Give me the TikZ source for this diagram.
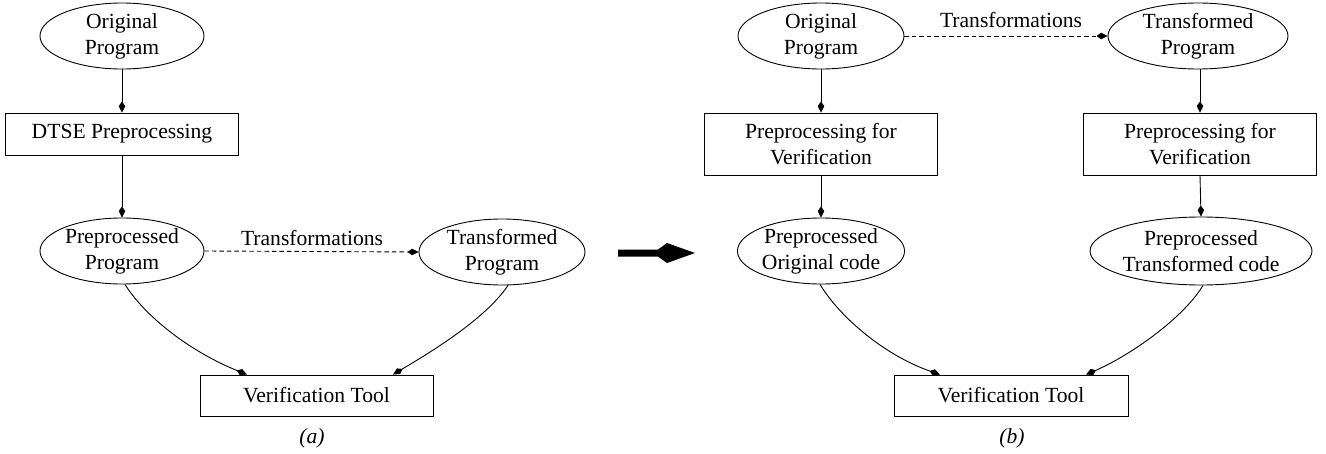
\documentclass[tikz,border=0pt]{standalone}
\usepackage{fontspec}
\setmainfont{Liberation Serif}
\newfontfamily\tnr{Liberation Serif}
\usetikzlibrary{shapes.geometric,arrows.meta}
\tikzset{
  txt/.style={font=\tnr\fontsize{21.6}{26}\selectfont, align=center, inner sep=0pt},
  ell/.style={txt, draw, ellipse, line width=0.9pt, minimum height=66pt},
  box/.style={txt, draw, rectangle, line width=0.9pt, minimum width=233pt},
  arr/.style={line width=0.9pt, -{Kite[length=11pt,width=6.5pt,inset=4.5pt]}},
  darr/.style={arr, dash pattern=on 4.5pt off 3pt},
}
\begin{document}
\begin{tikzpicture}[x=1pt, y=-1pt]
\useasboundingbox (0,0) rectangle (1326,453);
% ---------- (a) ----------
\node[ell, minimum width=164pt] (o1) at (122,36) {Original\\Program};
\node[box, minimum height=42pt] (dtse) at (122,134) {DTSE Preprocessing};
\node[ell, minimum width=164pt] (pp) at (122,251) {Preprocessed\\Program};
\node[ell, minimum width=166pt] (tp) at (502,252) {Transformed\\Program};
\node[box, minimum height=41pt] (vt1) at (316.5,395.5) {Verification Tool};
\node[txt, font=\tnr\fontsize{21.6}{26}\selectfont\itshape] (la) at (312,438) {(a)};
\node[txt, anchor=base] (tr1) at (312,245) {Transformations};

\draw[arr] (o1.south) -- (dtse.north);
\draw[arr] (dtse.south) -- (pp.north);
\draw[darr] (pp.east) -- (tp.west);
\draw[arr] ([xshift=3pt]pp.south) .. controls +(20,32) and +(-57,-23) .. ([xshift=-69.5pt]vt1.north);
\draw[arr] ([xshift=6pt]tp.south) .. controls +(-23,34) and +(37,-22) .. ([xshift=76.5pt]vt1.north);

% ---------- big arrow ----------
\fill (618,249.5) -- (658,249.5) -- (667,243) -- (695,253) -- (667,263) -- (658,256.5) -- (618,256.5) -- cycle;

% ---------- (b) ----------
\node[ell, minimum width=166pt] (o2) at (821,36) {Original\\Program};
\node[ell, minimum width=180pt] (t2) at (1198,36) {Transformed\\Program};
\node[box, minimum height=62pt] (pv1) at (821,144) {Preprocessing for\\Verification};
\node[box, minimum height=62pt] (pv2) at (1200,144) {Preprocessing for\\Verification};
\node[ell, minimum width=166pt] (po) at (821,251) {Preprocessed\\Original code};
\node[ell, minimum width=200pt, minimum height=68pt] (pt) at (1201,251) {Preprocessed\\Transformed code};
\node[box, minimum height=41pt, minimum width=234pt] (vt2) at (1011,395.5) {Verification Tool};
\node[txt, font=\tnr\fontsize{21.6}{26}\selectfont\itshape] (lb) at (1012,438) {(b)};
\node[txt, anchor=base] (tr2) at (1011,27) {Transformations};

\draw[darr] (o2.east) -- (t2.west);
\draw[arr] (o2.south) -- (pv1.north);
\draw[arr] (t2.south -| pv2.north) -- (pv2.north);
\draw[arr] (pv1.south) -- (po.north);
\draw[arr] (pv2.south) -- (pt.north);
\draw[arr] ([xshift=-1pt]po.south) .. controls +(20,33) and +(-55,-19) .. ([xshift=-71pt]vt2.north);
\draw[arr] ([xshift=2pt]pt.south) .. controls +(-20,33) and +(44,-19) .. ([xshift=75pt]vt2.north);
\end{tikzpicture}
\end{document}
